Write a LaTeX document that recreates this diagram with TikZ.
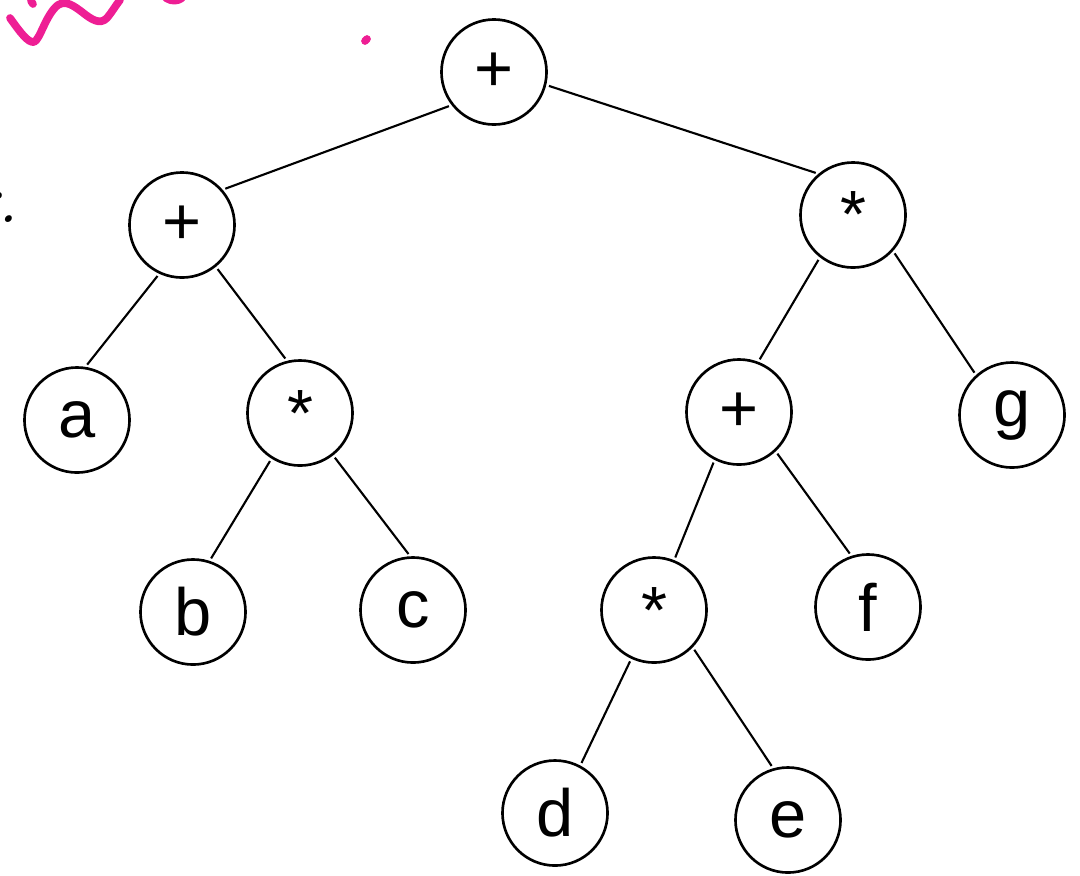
\documentclass[tikz,border=0pt]{standalone}
\usepackage{fontspec}
\setmainfont{Liberation Sans}
\newfontfamily\serifit{Latin Modern Roman}
\usepackage{tikz}
\usetikzlibrary{arrows}

\begin{document}
\begin{tikzpicture}[x=0.01cm,y=-0.01cm]
    \tikzstyle{vertex} = [draw,shape=circle,line width=0.75pt,minimum size=1.05cm,inner sep=0pt,font=\fontsize{19}{19}\selectfont]
\tikzstyle{edge} = [line width=0.6pt,shorten <=0.8pt,shorten >=0.8pt]
\tikzstyle{ink} = [draw=magenta!85!pink,line width=2.2pt,line cap=round,line join=round]

\useasboundingbox (0,0) rectangle (1080,875);

\node[vertex] (root) at (494,72) {+};
\node[vertex] (p1) at (182,225) {+};
\node[vertex] (m1) at (853,215) {*};
\node[vertex] (a) at (77,420) {a};
\node[vertex] (m2) at (300,413) {*};
\node[vertex] (b) at (193,612) {b};
\node[vertex] (c) at (413,610) {c};
\node[vertex] (p2) at (739,412) {+};
\node[vertex] (g) at (1012,415) {g};
\node[vertex] (m3) at (654,610) {*};
\node[vertex] (f) at (868,607) {f};
\node[vertex] (d) at (555,813) {d};
\node[vertex] (e) at (788,820) {e};

\draw[edge] (root.218) -- (p1.41);
\draw[edge] (root.346) -- (m1.130);
\draw[edge] (p1.245) -- (a.81);
\draw[edge] (p1.309) -- (m2.104);
\draw[edge] (m2.238) -- (b.72);
\draw[edge] (m2.308) -- (c.93);
\draw[edge] (m1.232) -- (p2.69);
\draw[edge] (m1.318) -- (g.132);
\draw[edge] (p2.243) -- (m3.68);
\draw[edge] (p2.313) -- (f.108);
\draw[edge] (m3.245) -- (d.62);
\draw[edge] (m3.316) -- (e.106);

% stray marks at the edge of the page
\node[anchor=east,inner sep=0pt,font=\serifit\itshape\fontsize{20}{20}\selectfont] (rdot) at (19,207) {r.};
\draw[ink] (10,18) .. controls (20,32) and (28,43) .. (34,42)
  .. controls (40,40) and (46,14) .. (58,5)
  .. controls (66,0) and (74,6) .. (82,12)
  .. controls (92,20) and (100,25) .. (107,18)
  .. controls (112,12) and (116,5) .. (120,0);
\draw[ink] (31,1) -- (33,4);
\draw[ink] (166,-2) .. controls (172,2) and (178,1) .. (182,-2);
\draw[ink] (365,41) -- (367,39);
\end{tikzpicture}
\end{document}
